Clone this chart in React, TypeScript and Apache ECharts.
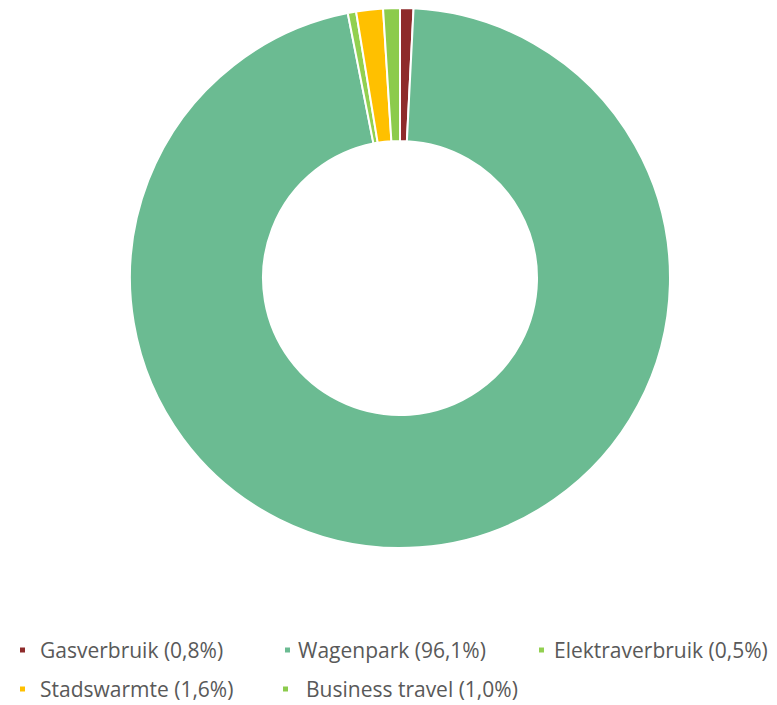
import React, { useEffect, useRef } from "react";
import * as echarts from "echarts";

const categories = ["Gasverbruik", "Wagenpark", "Elektraverbruik", "Stadswarmte", "Business travel"];
const shares = [0.8, 96.1, 0.5, 1.6, 1.0];
const colors = ["#8E2B2B", "#6BBB92", "#92D050", "#FFC000", "#8CCB4C"];
const legendLabels = ["Gasverbruik (0,8%)", "Wagenpark (96,1%)", "Elektraverbruik (0,5%)", "Stadswarmte (1,6%)", "Business travel (1,0%)"];

const legendPos = [
  { left: 18, top: 638, pad: 9 },
  { left: 283, top: 638, pad: 2 },
  { left: 537, top: 638, pad: 4 },
  { left: 18, top: 677, pad: 9 },
  { left: 281, top: 677, pad: 12 },
];

export default function App() {
  const ref = useRef<HTMLDivElement>(null);
  useEffect(() => {
    if (!ref.current) return;
    const chart = echarts.init(ref.current, undefined, { renderer: "svg" });
    chart.setOption({
      animation: false,
      color: colors,
      legend: categories.map((c, i) => ({
        data: [c],
        left: legendPos[i].left,
        top: legendPos[i].top,
        padding: 0,
        icon: "rect",
        itemWidth: 7,
        itemHeight: 7,
        selectedMode: false,
        formatter: () => legendLabels[i],
        textStyle: {
          fontFamily: "Open Sans",
          fontSize: 21,
          lineHeight: 24,
          color: "#595959",
          padding: [0, 0, 0, legendPos[i].pad],
        },
      })),
      series: [
        {
          type: "pie",
          center: [400, 278],
          radius: [137, 270],
          startAngle: 90,
          clockwise: true,
          label: { show: false },
          labelLine: { show: false },
          itemStyle: { borderColor: "#ffffff", borderWidth: 2 },
          emphasis: { disabled: true },
          data: categories.map((c, i) => ({ name: c, value: shares[i] })),
        },
      ],
    });
    return () => chart.dispose();
  }, []);
  return <div ref={ref} style={{ position: "fixed", left: 0, top: 0, width: 777, height: 705, background: "#fff" }} />;
}
